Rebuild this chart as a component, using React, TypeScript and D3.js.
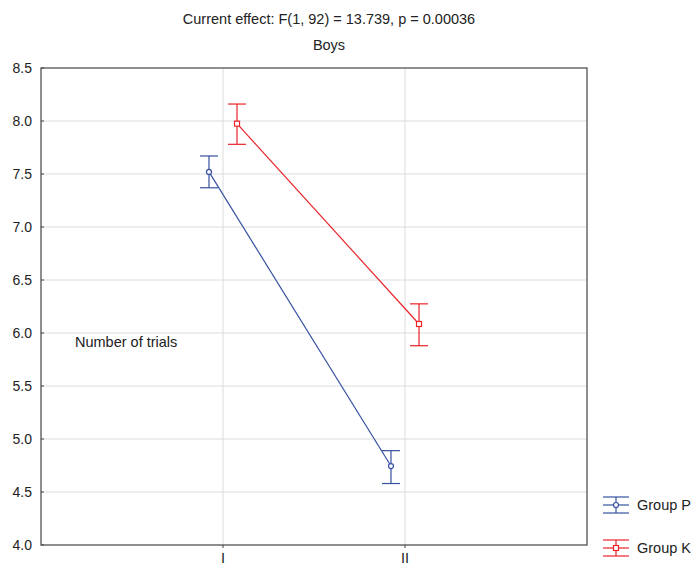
import React from "react";
import * as d3 from "d3";

const categories = ["I", "II"];
const seriesNames = ["Group P", "Group K"];
const meansP = [7.52, 4.745];
const upperP = [7.67, 4.89];
const lowerP = [7.37, 4.58];
const meansK = [7.975, 6.085];
const upperK = [8.16, 6.275];
const lowerK = [7.78, 5.88];
const yTicks = [4.0, 4.5, 5.0, 5.5, 6.0, 6.5, 7.0, 7.5, 8.0, 8.5];

const W = 693, H = 565;
const left = 41, right = 587, top = 68, bottom = 545;
const colors = ["#3650a2", "#e8232a"];
const offsets = [-0.077, 0.077];

export default function App() {
  const x = d3.scaleLinear().domain([0, 3]).range([left, right]);
  const y = d3.scaleLinear().domain([4, 8.5]).range([bottom, top]);
  const series = [
    { name: seriesNames[0], m: meansP, u: upperP, l: lowerP },
    { name: seriesNames[1], m: meansK, u: upperK, l: lowerK },
  ];
  const line = d3.line<[number, number]>().x(d => d[0]).y(d => d[1]);
  const font = "Liberation Sans, Arial, sans-serif";
  const fs = 14.5;
  return (
    <svg width={W} height={H} style={{ position: "absolute", left: 0, top: 0 }} fontFamily={font}>
      <rect width={W} height={H} fill="#fff" />
      {yTicks.slice(1, -1).map(t => (
        <line key={"g" + t} x1={left} x2={right} y1={y(t)} y2={y(t)} stroke="#dcdcdc" strokeWidth={1} />
      ))}
      {categories.map((c, i) => (
        <line key={"gx" + c} x1={x(i + 1)} x2={x(i + 1)} y1={top} y2={bottom} stroke="#dcdcdc" strokeWidth={1} />
      ))}
      <rect x={left} y={top} width={right - left} height={bottom - top} fill="none" stroke="#444" strokeWidth={1.2} />
      {yTicks.map(t => (
        <g key={"t" + t}>
          <line x1={left} x2={left + 3} y1={y(t)} y2={y(t)} stroke="#444" />
          <text x={32} y={y(t)} dy="0.35em" textAnchor="end" fontSize={14} fill="#222">{t.toFixed(1)}</text>
        </g>
      ))}
      {categories.map((c, i) => (
        <g key={"x" + c}>
          <line x1={x(i + 1)} x2={x(i + 1)} y1={bottom} y2={bottom + 3} stroke="#444" />
          <text x={x(i + 1)} y={bottom + 18} textAnchor="middle" fontSize={fs} fill="#222">{c}</text>
        </g>
      ))}
      <text x={329} y={24} textAnchor="middle" fontSize={fs} fill="#222">Current effect: F(1, 92) = 13.739, p = 0.00036</text>
      <text x={329} y={50} textAnchor="middle" fontSize={fs} fill="#222">Boys</text>
      <text x={75} y={347} fontSize={fs} fill="#222">Number of trials</text>
      {series.map((s, si) => {
        const pts: [number, number][] = s.m.map((v, i) => [x(i + 1 + offsets[si]), y(v)]);
        return (
          <g key={s.name} stroke={colors[si]} fill="none">
            <path d={line(pts) || ""} strokeWidth={1.2} />
            {s.m.map((v, i) => {
              const cx = x(i + 1 + offsets[si]);
              return (
                <g key={i}>
                  <line x1={cx} x2={cx} y1={y(s.u[i])} y2={y(s.l[i])} strokeWidth={1.2} />
                  <line x1={cx - 9} x2={cx + 9} y1={y(s.u[i])} y2={y(s.u[i])} strokeWidth={1.2} />
                  <line x1={cx - 9} x2={cx + 9} y1={y(s.l[i])} y2={y(s.l[i])} strokeWidth={1.2} />
                  {si === 0 ? (
                    <circle cx={cx} cy={y(v)} r={2.5} fill="#fff" strokeWidth={1.2} />
                  ) : (
                    <rect x={cx - 2.5} y={y(v) - 2.5} width={5} height={5} fill="#fff" strokeWidth={1.2} />
                  )}
                </g>
              );
            })}
          </g>
        );
      })}
      {series.map((s, si) => {
        const ly = 505 + si * 43;
        const cx = 616;
        return (
          <g key={"l" + s.name}>
            <g stroke={colors[si]} fill="none" strokeWidth={1.2}>
              <line x1={603} x2={629} y1={ly - 8} y2={ly - 8} />
              <line x1={603} x2={629} y1={ly} y2={ly} />
              <line x1={603} x2={629} y1={ly + 8} y2={ly + 8} />
              <line x1={cx} x2={cx} y1={ly - 8} y2={ly + 8} />
              {si === 0 ? (
                <circle cx={cx} cy={ly} r={2.5} fill="#fff" />
              ) : (
                <rect x={cx - 2.5} y={ly - 2.5} width={5} height={5} fill="#fff" />
              )}
            </g>
            <text x={637} y={ly} dy="0.35em" fontSize={fs} fill="#222">{s.name}</text>
          </g>
        );
      })}
    </svg>
  );
}
